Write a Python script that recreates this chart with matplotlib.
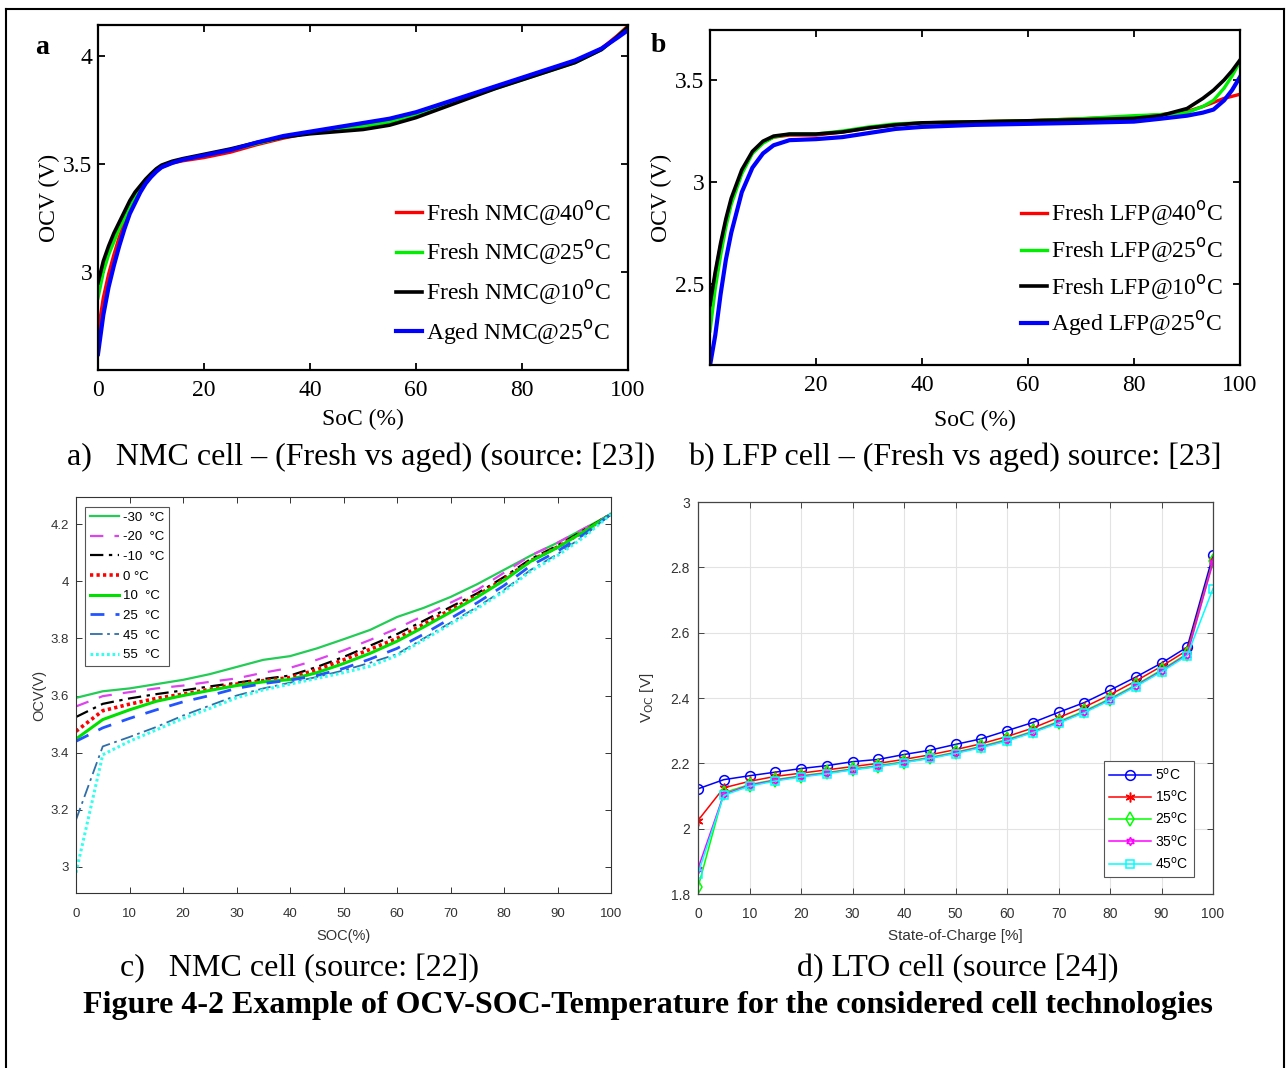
import numpy as np
import matplotlib
matplotlib.use("Agg")
import matplotlib.pyplot as plt
from matplotlib.ticker import FuncFormatter
from matplotlib.lines import Line2D

W, H = 1287, 1068
SERIF = "Liberation Serif"
SANS = "Liberation Sans"

# ---- panel a: NMC fresh vs aged ----
soc_a = [0, 1, 2, 3, 4, 5, 6, 7, 8, 9, 10, 11, 12, 14, 16, 20, 25, 30, 35, 40, 45, 50, 55, 60, 65, 70, 75, 80, 85, 90, 95, 98, 100]
nmc_40 = [2.72, 2.88, 2.99, 3.08, 3.16, 3.23, 3.29, 3.34, 3.38, 3.415, 3.445, 3.47, 3.485, 3.505, 3.515, 3.53, 3.555, 3.59, 3.62, 3.645, 3.665, 3.685, 3.705, 3.735, 3.775, 3.815, 3.855, 3.895, 3.935, 3.975, 4.035, 4.095, 4.14]
nmc_25 = [2.88, 3.00, 3.08, 3.14, 3.20, 3.25, 3.30, 3.35, 3.39, 3.42, 3.45, 3.475, 3.49, 3.51, 3.52, 3.54, 3.565, 3.595, 3.625, 3.645, 3.66, 3.675, 3.695, 3.725, 3.765, 3.81, 3.85, 3.89, 3.93, 3.97, 4.03, 4.09, 4.135]
nmc_10 = [2.95, 3.05, 3.12, 3.18, 3.23, 3.28, 3.33, 3.37, 3.40, 3.43, 3.455, 3.478, 3.495, 3.513, 3.525, 3.545, 3.57, 3.60, 3.625, 3.64, 3.65, 3.66, 3.68, 3.715, 3.76, 3.805, 3.85, 3.89, 3.93, 3.97, 4.03, 4.09, 4.135]
nmc_aged = [2.62, 2.80, 2.93, 3.03, 3.12, 3.20, 3.27, 3.32, 3.37, 3.41, 3.44, 3.465, 3.485, 3.505, 3.52, 3.54, 3.565, 3.60, 3.63, 3.65, 3.67, 3.69, 3.71, 3.74, 3.78, 3.82, 3.86, 3.90, 3.94, 3.98, 4.035, 4.085, 4.12]
labels_a = ["Fresh NMC@40$^{\\rm o}$C", "Fresh NMC@25$^{\\rm o}$C",
            "Fresh NMC@10$^{\\rm o}$C", "Aged NMC@25$^{\\rm o}$C"]

# ---- panel b: LFP fresh vs aged ----
soc_b = [0, 1, 2, 3, 4, 6, 8, 10, 12, 15, 20, 25, 30, 35, 40, 50, 60, 70, 80, 85, 90, 93, 95, 97, 98.5, 100]
lfp_40 = [2.38, 2.55, 2.69, 2.81, 2.91, 3.05, 3.145, 3.195, 3.22, 3.23, 3.23, 3.245, 3.265, 3.28, 3.29, 3.295, 3.30, 3.31, 3.32, 3.33, 3.345, 3.37, 3.39, 3.41, 3.42, 3.43]
lfp_25 = [2.27, 2.48, 2.64, 2.78, 2.89, 3.04, 3.14, 3.19, 3.22, 3.235, 3.235, 3.25, 3.27, 3.285, 3.29, 3.295, 3.30, 3.31, 3.325, 3.33, 3.34, 3.37, 3.40, 3.46, 3.52, 3.59]
lfp_10 = [2.40, 2.56, 2.70, 2.82, 2.92, 3.06, 3.15, 3.20, 3.225, 3.235, 3.235, 3.245, 3.265, 3.28, 3.29, 3.295, 3.30, 3.305, 3.312, 3.325, 3.36, 3.41, 3.45, 3.50, 3.545, 3.598]
lfp_aged = [2.10, 2.25, 2.45, 2.62, 2.75, 2.95, 3.07, 3.14, 3.18, 3.205, 3.21, 3.22, 3.24, 3.26, 3.27, 3.28, 3.285, 3.29, 3.296, 3.31, 3.325, 3.34, 3.355, 3.40, 3.45, 3.515]
labels_b = ["Fresh LFP@40$^{\\rm o}$C", "Fresh LFP@25$^{\\rm o}$C",
            "Fresh LFP@10$^{\\rm o}$C", "Aged LFP@25$^{\\rm o}$C"]

# ---- panel c: NMC cell vs temperature ----
soc_c = [0, 5, 10, 15, 20, 25, 30, 35, 40, 45, 50, 55, 60, 65, 70, 75, 80, 85, 90, 95, 100]
ocv_m30 = [3.592, 3.615, 3.625, 3.64, 3.655, 3.675, 3.70, 3.725, 3.738, 3.765, 3.797, 3.83, 3.875, 3.907, 3.945, 3.99, 4.04, 4.09, 4.135, 4.185, 4.235]
ocv_m20 = [3.562, 3.598, 3.612, 3.625, 3.635, 3.648, 3.66, 3.68, 3.697, 3.725, 3.758, 3.795, 3.835, 3.88, 3.925, 3.97, 4.03, 4.09, 4.135, 4.185, 4.235]
ocv_m10 = [3.525, 3.571, 3.59, 3.605, 3.618, 3.632, 3.645, 3.658, 3.67, 3.70, 3.735, 3.775, 3.815, 3.862, 3.91, 3.958, 4.015, 4.078, 4.125, 4.18, 4.235]
ocv_0 = [3.475, 3.547, 3.57, 3.59, 3.605, 3.622, 3.64, 3.652, 3.663, 3.69, 3.725, 3.762, 3.80, 3.85, 3.90, 3.95, 4.008, 4.072, 4.12, 4.175, 4.235]
ocv_10 = [3.448, 3.516, 3.55, 3.58, 3.60, 3.618, 3.635, 3.648, 3.656, 3.68, 3.712, 3.748, 3.79, 3.84, 3.892, 3.945, 4.003, 4.07, 4.118, 4.175, 4.235]
ocv_25 = [3.44, 3.487, 3.52, 3.55, 3.578, 3.60, 3.625, 3.642, 3.654, 3.67, 3.695, 3.728, 3.765, 3.815, 3.87, 3.925, 3.985, 4.055, 4.105, 4.165, 4.235]
ocv_45 = [3.165, 3.422, 3.455, 3.49, 3.53, 3.565, 3.60, 3.625, 3.645, 3.665, 3.688, 3.715, 3.745, 3.80, 3.855, 3.91, 3.97, 4.04, 4.095, 4.16, 4.235]
ocv_55 = [2.98, 3.393, 3.44, 3.48, 3.52, 3.555, 3.592, 3.62, 3.64, 3.66, 3.68, 3.703, 3.74, 3.795, 3.85, 3.905, 3.965, 4.035, 4.09, 4.155, 4.235]
labels_c = ["-30  \u00b0C", "-20  \u00b0C", "-10  \u00b0C", "0 \u00b0C",
            "10  \u00b0C", "25  \u00b0C", "45  \u00b0C", "55  \u00b0C"]

# ---- panel d: LTO cell ----
soc_d = [0, 5, 10, 15, 20, 25, 30, 35, 40, 45, 50, 55, 60, 65, 70, 75, 80, 85, 90, 95, 100]
voc_5 = [2.122, 2.150, 2.162, 2.173, 2.184, 2.193, 2.205, 2.212, 2.227, 2.240, 2.258, 2.275, 2.300, 2.325, 2.356, 2.386, 2.424, 2.464, 2.507, 2.556, 2.837]
voc_15 = [2.025, 2.125, 2.145, 2.160, 2.170, 2.180, 2.190, 2.200, 2.212, 2.226, 2.242, 2.260, 2.282, 2.308, 2.340, 2.372, 2.410, 2.452, 2.497, 2.546, 2.822]
voc_25 = [1.820, 2.110, 2.135, 2.150, 2.162, 2.172, 2.183, 2.193, 2.205, 2.218, 2.234, 2.252, 2.273, 2.298, 2.328, 2.360, 2.398, 2.440, 2.486, 2.536, 2.818]
voc_35 = [1.878, 2.105, 2.133, 2.148, 2.160, 2.170, 2.181, 2.191, 2.203, 2.216, 2.232, 2.250, 2.270, 2.296, 2.325, 2.357, 2.395, 2.437, 2.483, 2.533, 2.815]
voc_45 = [1.862, 2.102, 2.130, 2.146, 2.158, 2.168, 2.180, 2.190, 2.202, 2.215, 2.230, 2.248, 2.268, 2.294, 2.323, 2.355, 2.393, 2.435, 2.480, 2.530, 2.735]
labels_d = ["5$^{\\rm o}$C", "15$^{\\rm o}$C", "25$^{\\rm o}$C", "35$^{\\rm o}$C", "45$^{\\rm o}$C"]


def px_axes(fig, left, top, right, bottom):
    return fig.add_axes([left / W, 1 - bottom / H, (right - left) / W, (bottom - top) / H])


def fx(px):
    return px / W


def fy(py):
    return 1 - py / H


gfmt = FuncFormatter(lambda v, p: "%g" % round(v, 3))

fig = plt.figure(figsize=(W / 100, H / 100), dpi=100)

# page frame
fig.add_artist(Line2D([fx(6), fx(6)], [fy(9), 0], color="black", lw=1.5))
fig.add_artist(Line2D([fx(6), fx(1284)], [fy(9), fy(9)], color="black", lw=1.5))
fig.add_artist(Line2D([fx(1284), fx(1284)], [fy(9), 0], color="black", lw=1.5))


def style_serif(ax):
    for s in ax.spines.values():
        s.set_linewidth(1.6)
    ax.tick_params(direction="in", top=True, right=True, length=5, width=1.3,
                   labelsize=17, pad=4)
    ax.tick_params(axis="x", pad=7)
    for lab in ax.get_xticklabels() + ax.get_yticklabels():
        lab.set_fontfamily(SERIF)


# ---- a ----
ax = px_axes(fig, 98, 25, 628, 370)
ax.plot(soc_a, nmc_40, color="#ff0000", lw=2.4, label=labels_a[0])
ax.plot(soc_a, nmc_25, color="#00ee00", lw=2.4, label=labels_a[1])
ax.plot(soc_a, nmc_10, color="black", lw=2.6, label=labels_a[2])
ax.plot(soc_a, nmc_aged, color="#0000ff", lw=3.0, label=labels_a[3])
ax.set_xlim(0, 100)
ax.set_ylim(2.546, 4.144)
ax.set_xticks([0, 20, 40, 60, 80, 100])
ax.set_yticks([3, 3.5, 4])
ax.yaxis.set_major_formatter(gfmt)
style_serif(ax)
ax.set_xlabel("SoC (%)", family=SERIF, fontsize=17, labelpad=6)
ax.set_ylabel("OCV (V)", family=SERIF, fontsize=17, labelpad=2)
ax.legend(loc="lower right", bbox_to_anchor=(1.0, 0.02), frameon=False,
          prop={"family": SERIF, "size": 17}, handlelength=1.1, handletextpad=0.2,
          labelspacing=0.45, borderaxespad=0.3)
fig.text(fx(42), fy(47), "a", family=SERIF, weight="bold", fontsize=20, ha="center", va="center")

# ---- b ----
ax = px_axes(fig, 710, 30, 1240, 365)
ax.plot(soc_b, lfp_40, color="#ff0000", lw=2.4, label=labels_b[0])
ax.plot(soc_b, lfp_25, color="#00ee00", lw=2.4, label=labels_b[1])
ax.plot(soc_b, lfp_10, color="black", lw=2.6, label=labels_b[2])
ax.plot(soc_b, lfp_aged, color="#0000ff", lw=3.0, label=labels_b[3])
ax.set_xlim(0, 100)
ax.set_ylim(2.103, 3.745)
ax.set_xticks([20, 40, 60, 80, 100])
ax.set_yticks([2.5, 3, 3.5])
ax.yaxis.set_major_formatter(gfmt)
style_serif(ax)
ax.set_xlabel("SoC (%)", family=SERIF, fontsize=17, labelpad=10)
ax.set_ylabel("OCV (V)", family=SERIF, fontsize=17, labelpad=2)
ax.legend(loc="lower right", bbox_to_anchor=(1.0, 0.03), frameon=False,
          prop={"family": SERIF, "size": 17}, handlelength=1.1, handletextpad=0.2,
          labelspacing=0.33, borderaxespad=0.3)
fig.text(fx(658), fy(45), "b", family=SERIF, weight="bold", fontsize=20, ha="center", va="center")

fig.text(fx(67), fy(457), "a)   NMC cell \u2013 (Fresh vs aged) (source: [23])", family=SERIF,
         fontsize=23, ha="left", va="center")
fig.text(fx(688), fy(457), "b) LFP cell \u2013 (Fresh vs aged) source: [23]", family=SERIF,
         fontsize=23, ha="left", va="center")

# ---- c ----
ax = px_axes(fig, 76, 497, 611, 893)
ax.plot(soc_c, ocv_m30, color="#22cc55", lw=1.6, ls="-", label=labels_c[0])
ax.plot(soc_c, ocv_m20, color="#dd44ee", lw=1.6, ls=(0, (6, 5)), label=labels_c[1])
ax.plot(soc_c, ocv_m10, color="black", lw=1.6, ls=(0, (6, 2.5, 1.5, 2.5)), label=labels_c[2])
ax.plot(soc_c, ocv_0, color="#ff0000", lw=2.6, ls=(0, (0.9, 0.9)), label=labels_c[3])
ax.plot(soc_c, ocv_10, color="#00e000", lw=2.2, ls="-", label=labels_c[4])
ax.plot(soc_c, ocv_25, color="#2255ff", lw=2.0, ls=(0, (5, 4)), label=labels_c[5])
ax.plot(soc_c, ocv_45, color="#2f6ea8", lw=1.3, ls=(0, (7, 2.5, 1.5, 2.5)), label=labels_c[6])
ax.plot(soc_c, ocv_55, color="#33ffee", lw=2.2, ls=(0, (0.9, 0.9)), label=labels_c[7])
ax.set_xlim(0, 100)
ax.set_ylim(2.909, 4.295)
ax.set_xticks(np.arange(0, 101, 10))
ax.set_yticks([3, 3.2, 3.4, 3.6, 3.8, 4, 4.2])
ax.yaxis.set_major_formatter(gfmt)
for s in ax.spines.values():
    s.set_color("#333333")
    s.set_linewidth(0.8)
ax.tick_params(direction="in", top=True, right=True, length=4, width=0.7,
               labelsize=9.5, labelcolor="#333333", colors="#333333", pad=5)
ax.tick_params(axis="x", pad=11)
for lab in ax.get_xticklabels() + ax.get_yticklabels():
    lab.set_fontfamily(SANS)
ax.set_xlabel("SOC(%)", family=SANS, fontsize=10.5, color="#333333", labelpad=6)
ax.set_ylabel("OCV(V)", family=SANS, fontsize=10.5, color="#333333", labelpad=3)
leg = ax.legend(loc="upper left", bbox_to_anchor=(0.017, 0.975), prop={"family": SANS, "size": 9.5},
                handlelength=2.2, handletextpad=0.3, labelspacing=0.56, borderpad=0.35,
                borderaxespad=0, fancybox=False, framealpha=1)
leg.get_frame().set_edgecolor("#555555")
leg.get_frame().set_linewidth(0.8)

# ---- d ----
ax = px_axes(fig, 698, 502, 1213, 894)
mk = dict(ms=7, mfc="none", mew=1.1, lw=1.1)
ax.plot(soc_d, voc_5, color="#0000ff", marker="o", label=labels_d[0], **mk)
ax.plot(soc_d, voc_15, color="#ff0000", marker=(6, 2, 0), label=labels_d[1], **mk)
ax.plot(soc_d, voc_25, color="#00ff00", marker="d", label=labels_d[2], **mk)
ax.plot(soc_d, voc_35, color="#ff00ff", marker=(6, 1, 0), label=labels_d[3], **dict(mk, ms=6))
ax.plot(soc_d, voc_45, color="#00ffff", marker="s", label=labels_d[4], **dict(mk, ms=5.5))
ax.set_xlim(0, 100)
ax.set_ylim(1.8, 3.0)
ax.set_xticks(np.arange(0, 101, 10))
ax.set_yticks([1.8, 2, 2.2, 2.4, 2.6, 2.8, 3])
ax.yaxis.set_major_formatter(gfmt)
ax.grid(True, color="#e3e3e3", lw=0.8)
ax.set_axisbelow(True)
for s in ax.spines.values():
    s.set_color("#444444")
    s.set_linewidth(0.9)
ax.tick_params(direction="in", top=True, right=True, length=4, width=0.7,
               labelsize=10, labelcolor="#333333", colors="#444444", pad=6)
ax.tick_params(axis="x", pad=9)
for lab in ax.get_xticklabels() + ax.get_yticklabels():
    lab.set_fontfamily(SANS)
ax.set_xlabel("State-of-Charge [%]", family=SANS, fontsize=11, color="#333333", labelpad=6)
ax.set_ylabel("V$_{\\rm OC}$ [V]", family=SANS, fontsize=11, color="#333333", labelpad=10)
leg = ax.legend(loc="lower right", bbox_to_anchor=(0.963, 0.043), prop={"family": SANS, "size": 10},
                handlelength=3.0, handletextpad=0.3, labelspacing=0.45, borderpad=0.4,
                borderaxespad=0, fancybox=False, framealpha=1)
leg.get_frame().set_edgecolor("#555555")
leg.get_frame().set_linewidth(0.8)

fig.text(fx(300), fy(969), "c)   NMC cell (source: [22])", family=SERIF, fontsize=23,
         ha="center", va="center")
fig.text(fx(958), fy(969), "d) LTO cell (source [24])", family=SERIF, fontsize=23,
         ha="center", va="center")
fig.text(fx(648), fy(1006), "Figure 4-2 Example of OCV-SOC-Temperature for the considered cell technologies",
         family=SERIF, fontsize=23, weight="bold", ha="center", va="center")

fig.savefig("out.png", dpi=100)
